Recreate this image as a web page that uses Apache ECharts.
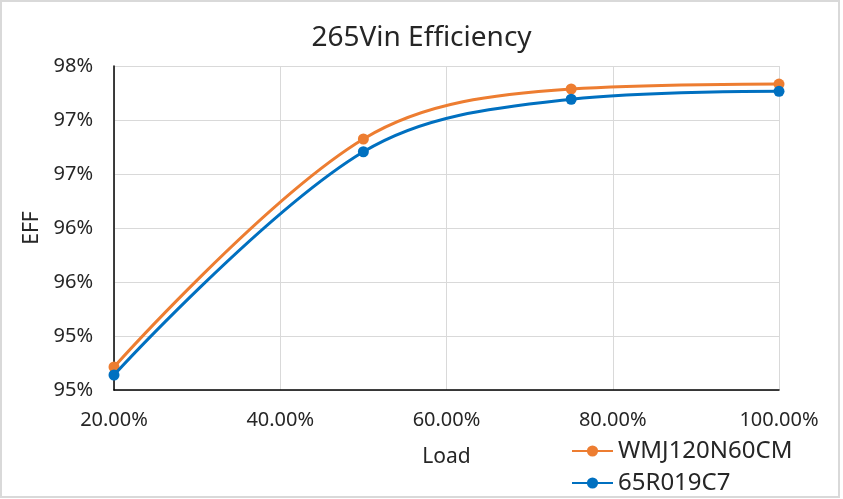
<!DOCTYPE html>
<html>
<head>
<meta charset="utf-8">
<script src="https://cdn.jsdelivr.net/npm/echarts@6/dist/echarts.min.js"></script>
<style>
html,body{margin:0;padding:0;background:#fff;}
#c{width:843px;height:499px;}
</style>
</head>
<body>
<div id="c"></div>
<script>
var loads = [20, 50, 75, 100];
var seriesNames = ['WMJ120N60CM', '65R019C7'];
var wmjValues = [95.213, 97.324, 97.787, 97.833];
var c7Values = [95.139, 97.206, 97.692, 97.766];
var yTickLabels = ['95%', '95%', '96%', '96%', '97%', '97%', '98%'];
var xTickLabels = ['20.00%', '40.00%', '60.00%', '80.00%', '100.00%'];

var FONT = '"Noto Sans", "DejaVu Sans", sans-serif';
function pairs(vals) { return loads.map(function (x, i) { return [x, vals[i]]; }); }

var chart = echarts.init(document.getElementById('c'), null, {renderer: 'canvas'});
chart.setOption({
  animation: false,
  title: {
    text: '265Vin Efficiency', left: 'center', top: 19,
    textStyle: {fontFamily: FONT, fontSize: 28, fontWeight: 'normal', color: '#262626'}
  },
  grid: {left: 114, right: 64, top: 66, bottom: 109, containLabel: false},
  legend: {
    orient: 'vertical', left: 571, top: 439, height: 80, itemGap: 8, itemWidth: 41, itemHeight: 14,
    padding: 0,
    data: seriesNames,
    textStyle: {fontFamily: FONT, fontSize: 24, color: '#262626'}
  },
  xAxis: {
    type: 'value', min: 20, max: 100, interval: 20,
    name: 'Load', nameLocation: 'middle', nameGap: 57,
    nameTextStyle: {fontFamily: FONT, fontSize: 21, color: '#262626'},
    axisLine: {show: true, lineStyle: {color: '#000', width: 1.5}},
    axisTick: {show: false},
    axisLabel: {
      margin: 20, fontFamily: FONT, fontSize: 20, color: '#262626',
      formatter: function (v) { return xTickLabels[Math.round((v - 20) / 20)]; }
    },
    splitLine: {show: true, lineStyle: {color: '#D9D9D9', width: 1}}
  },
  yAxis: {
    type: 'value', min: 95, max: 98, interval: 0.5,
    name: 'EFF', nameLocation: 'middle', nameGap: 71, nameRotate: 90,
    nameTextStyle: {fontFamily: FONT, fontSize: 21, color: '#262626'},
    axisLine: {show: true, lineStyle: {color: '#000', width: 1.5}},
    axisTick: {show: false},
    axisLabel: {
      margin: 21, fontFamily: FONT, fontSize: 20, color: '#262626',
      formatter: function (v) { return yTickLabels[Math.round((v - 95) / 0.5)]; }
    },
    splitLine: {show: true, lineStyle: {color: '#D9D9D9', width: 1}}
  },
  graphic: [{
    type: 'rect', shape: {x: 1, y: 1, width: 838, height: 496},
    style: {fill: null, stroke: '#D9D9D9', lineWidth: 2}, silent: true, z: 100
  }],
  series: [
    {
      name: seriesNames[0], type: 'line', smooth: 0.35, data: pairs(wmjValues),
      symbol: 'circle', symbolSize: 11,
      lineStyle: {color: '#ED7D31', width: 3}, itemStyle: {color: '#ED7D31'}, z: 3
    },
    {
      name: seriesNames[1], type: 'line', smooth: 0.35, data: pairs(c7Values),
      symbol: 'circle', symbolSize: 11,
      lineStyle: {color: '#0070C0', width: 3}, itemStyle: {color: '#0070C0'}, z: 4
    }
  ]
});
</script>
</body>
</html>
